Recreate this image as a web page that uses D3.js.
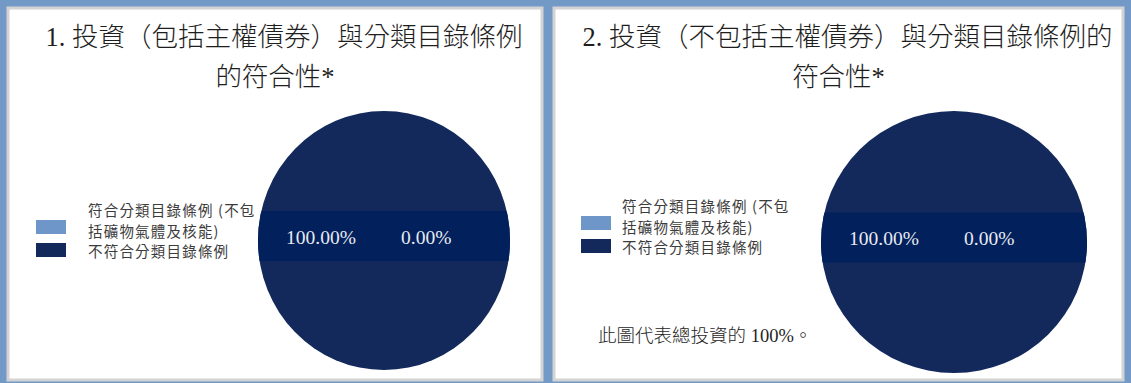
<!DOCTYPE html>
<html>
<head>
<meta charset="utf-8">
<script src="https://cdn.jsdelivr.net/npm/d3@7"></script>
<style>
  html, body { margin: 0; padding: 0; background: #7399c7; }
  svg { display: block; }
</style>
</head>
<body>
<svg id="chart" width="1131" height="383"></svg>
<script>
// Categories shared by both pies
const categories = ["符合分類目錄條例 (不包括礦物氣體及核能)", "不符合分類目錄條例"];
const legendLines = [["符合分類目錄條例 (不包", "括礦物氣體及核能)"], ["不符合分類目錄條例"]];
const seriesColors = ["#6f96c9", "#13295b"];

// Share of investments (%) per category
const valuesIncludingSovereign = [0.00, 100.00];
const valuesExcludingSovereign = [0.00, 100.00];

const titles = [
  ["1. 投資（包括主權債券）與分類目錄條例", "的符合性*"],
  ["2. 投資（不包括主權債券）與分類目錄條例的", "符合性*"]
];
const footnotes = ["", "此圖代表總投資的 100%。"];

const panels = [
  { x: 7, w: 536, values: valuesIncludingSovereign, cx: 384, cy: 240.5, rx: 126, ry: 129.5, legendX: 36, legendY: 216 },
  { x: 553, w: 571, values: valuesExcludingSovereign, cx: 954, cy: 242, rx: 133, ry: 131, legendX: 581, legendY: 212 }
];

const svg = d3.select("#chart");
const serif = "'Liberation Serif', 'Noto Sans CJK TC', serif";
const sans = "'Noto Sans CJK TC', sans-serif";

const pie = d3.pie().sort(null).value(d => d);
const fmt = d3.format(".2f");

panels.forEach((p, i) => {
  const g = svg.append("g");

  // panel card
  g.append("rect")
    .attr("x", p.x + 1).attr("y", 8)
    .attr("width", p.w - 2).attr("height", 372)
    .attr("fill", "#ffffff")
    .attr("stroke", "#d3d3d3").attr("stroke-width", 3);

  // title
  const t = g.append("text")
    .attr("text-anchor", "middle")
    .attr("font-family", serif)
    .attr("font-weight", 300)
    .attr("font-size", 26.5)
    .attr("fill", "#1e1e1e");
  titles[i].forEach((line, k) => {
    t.append("tspan")
      .attr("x", p.x + p.w / 2 + (k === 0 ? 9 : 0))
      .attr("y", 46 + k * 40)
      .text(line);
  });

  // pie (drawn as unit radius, scaled to the ellipse)
  const arc = d3.arc().innerRadius(0).outerRadius(1);
  const arcs = pie(p.values);
  const pg = g.append("g")
    .attr("transform", `translate(${p.cx},${p.cy}) scale(${p.rx},${p.ry})`);
  pg.selectAll("path.slice")
    .data(arcs)
    .join("path")
    .attr("class", "slice")
    .attr("d", arc)
    .attr("fill", (d, k) => seriesColors[k]);

  // label band across the pie
  const clipId = "pieclip" + i;
  g.append("clipPath").attr("id", clipId)
    .append("ellipse")
    .attr("cx", p.cx).attr("cy", p.cy)
    .attr("rx", p.rx).attr("ry", p.ry);
  g.append("rect")
    .attr("clip-path", `url(#${clipId})`)
    .attr("x", p.cx - p.rx).attr("y", p.cy - 29.5)
    .attr("width", p.rx * 2).attr("height", 50)
    .attr("fill", "#01205c");

  // value labels: dominant slice first, then the empty one
  const labelOrder = [1, 0];
  const labelOffsets = [28, 143];
  labelOrder.forEach((k, j) => {
    g.append("text")
      .attr("x", p.cx - p.rx + labelOffsets[j])
      .attr("y", p.cy + 3)
      .attr("font-family", serif)
      .attr("font-size", 19.5)
      .attr("fill", "#e9ebf2")
      .text(fmt(p.values[k]) + "%");
  });

  // legend
  let lineIdx = 0;
  const swatchY = [p.legendY + 4, p.legendY + 27];
  categories.forEach((c, k) => {
    g.append("rect")
      .attr("x", p.legendX).attr("y", swatchY[k])
      .attr("width", 30).attr("height", 14)
      .attr("fill", seriesColors[k]);
    legendLines[k].forEach(line => {
      g.append("text")
        .attr("x", p.legendX + 52 - (i === 1 ? 11 : 0))
        .attr("y", p.legendY + lineIdx * 20.5)
        .attr("font-family", sans)
        .attr("font-size", 14.5)
        .attr("letter-spacing", 1.2)
        .attr("fill", "#3c3c3c")
        .text(line);
      lineIdx++;
    });
  });

  if (footnotes[i]) {
    g.append("text")
      .attr("x", p.x + 45)
      .attr("y", 342)
      .attr("font-family", serif)
      .attr("font-weight", 300)
      .attr("font-size", 18.5)
      .attr("fill", "#1e1e1e")
      .text(footnotes[i]);
  }
});
</script>
</body>
</html>
